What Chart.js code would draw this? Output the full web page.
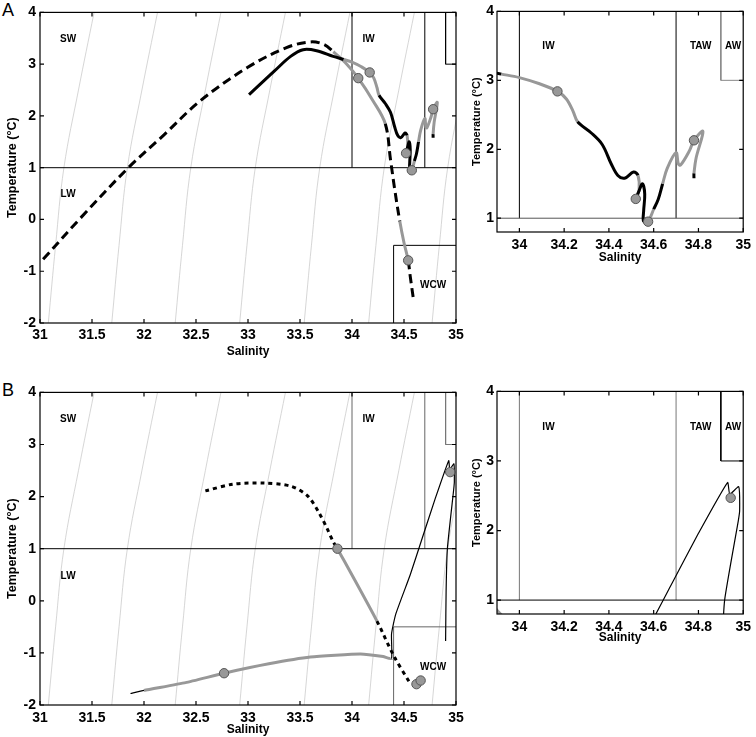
<!DOCTYPE html>
<html>
<head>
<meta charset="utf-8">
<script src="https://cdn.jsdelivr.net/npm/chart.js@4.4.1/dist/chart.umd.min.js"></script>
<style>
  body { margin: 0; background: #fff; width: 756px; height: 737px; position: relative; overflow: hidden; font-family: "Liberation Sans", Arial, sans-serif; }
  .panel { position: absolute; }
  .letter { position: absolute; font-size: 18px; color: #000; }
</style>
</head>
<body>
<div class="letter" style="left:2px;top:0px;">A</div>
<div class="letter" style="left:2px;top:380px;">B</div>
<div class="panel" style="left:0px;top:0px;"><canvas id="mainA" width="470" height="362"></canvas></div>
<div class="panel" style="left:460px;top:0px;"><canvas id="insetA" width="296" height="270"></canvas></div>
<div class="panel" style="left:0px;top:380px;"><canvas id="mainB" width="470" height="360"></canvas></div>
<div class="panel" style="left:460px;top:380px;"><canvas id="insetB" width="296" height="270"></canvas></div>
<script>
// tick labels
const mainSalTicks = [31, 31.5, 32, 32.5, 33, 33.5, 34, 34.5, 35];
const mainTempTicks = [-2, -1, 0, 1, 2, 3, 4];
const insetSalTicks = [34, 34.2, 34.4, 34.6, 34.8, 35];
const insetTempTicks = [1, 2, 3, 4];

// density contours at these temperatures
const isoTemp = [-2, -0.5, 1, 2.5, 4];
const isoSal = [
  [31.08, 31.15, 31.23, 31.37, 31.52],
  [31.69, 31.76, 31.84, 31.98, 32.13],
  [32.30, 32.37, 32.45, 32.59, 32.74],
  [32.92, 32.99, 33.07, 33.21, 33.36],
  [33.54, 33.61, 33.69, 33.83, 33.98],
  [34.16, 34.23, 34.31, 34.45, 34.60],
  [34.77, 34.84, 34.92, 35.06, 35.21]
];

// water mass boundaries
const boxSal = [[31, 35], [34, 34], [34.7, 34.7], [34.9, 34.9, 35], [34.4, 34.4, 35]];
const boxTemp = [[1, 1], [1, 4], [1, 4], [4, 3, 3], [-2, -0.5, -0.5]];

// water mass names
const mainNames = ['SW', 'LW', 'IW', 'WCW'];
const mainNameSal = [31.27, 31.27, 34.16, 34.78];
const mainNameTemp = [3.49, 0.48, 3.49, -1.27];
const insetNames = ['IW', 'TAW', 'AW'];
const insetNameSal = [34.13, 34.81, 34.955];
const insetNameTemp = [3.49, 3.49, 3.49];

// profile A1 (d = dashed black, g = grey)
const a1Sal  = [31.03, 31.40, 31.85, 32.19, 32.54, 32.99, 33.37, 33.60, 33.73, 33.82, 33.95, 34.06, 34.20, 34.32, 34.37, 34.41, 34.46, 34.50, 34.54, 34.56, 34.59];
const a1Temp = [-0.77, 0.05, 1.00, 1.63, 2.29, 2.93, 3.32, 3.43, 3.38, 3.24, 3.00, 2.73, 2.30, 1.85, 1.16, 0.59, -0.04, -0.45, -0.79, -1.10, -1.53];
const a1Style = ['d', 'd', 'd', 'd', 'd', 'd', 'd', 'd', 'd', 'g', 'g', 'g', 'g', 'd', 'd', 'd', 'g', 'g', 'd', 'd', 'd'];
const a1MarkSal = [34.06, 34.54];
const a1MarkTemp = [2.73, -0.79];

// profile A2 (k = black, g = grey)
const a2Sal  = [33.01, 33.25, 33.41, 33.53, 33.66, 33.82, 33.92, 34.00, 34.09, 34.17, 34.21, 34.24, 34.26, 34.32, 34.37, 34.41, 34.44, 34.47, 34.51, 34.53, 34.535, 34.52, 34.535, 34.55, 34.56, 34.555, 34.555, 34.575, 34.60, 34.62, 34.64, 34.66, 34.70, 34.71, 34.72, 34.76, 34.78, 34.82, 34.79, 34.78, 34.78];
const a2Temp = [2.41, 2.86, 3.15, 3.28, 3.26, 3.15, 3.09, 3.04, 2.95, 2.84, 2.73, 2.55, 2.40, 2.24, 2.07, 1.79, 1.62, 1.58, 1.67, 1.62, 1.41, 1.28, 1.40, 1.50, 1.35, 1.10, 0.95, 0.95, 1.13, 1.27, 1.50, 1.72, 1.95, 1.79, 1.77, 1.98, 2.13, 2.26, 1.88, 1.65, 1.58];
const a2Style = ['k', 'k', 'k', 'k', 'k', 'k', 'g', 'g', 'g', 'g', 'g', 'g', 'k', 'k', 'k', 'k', 'k', 'k', 'k', 'g', 'g', 'k', 'k', 'k', 'k', 'k', 'g', 'g', 'k', 'k', 'g', 'g', 'g', 'g', 'g', 'g', 'g', 'g', 'g', 'k', 'k'];
const a2MarkSal = [34.17, 34.52, 34.575, 34.78];
const a2MarkTemp = [2.84, 1.28, 0.95, 2.13];

// profile B1 (: = dotted black, g = grey)
const b1Sal  = [32.59, 32.86, 33.15, 33.41, 33.57, 33.68, 33.76, 33.82, 33.86, 34.24, 34.40, 34.56];
const b1Temp = [2.11, 2.24, 2.26, 2.20, 2.02, 1.70, 1.39, 1.13, 1.00, -0.39, -1.05, -1.59];
const b1Style = [':', ':', ':', ':', ':', ':', ':', ':', 'g', ':', ':', ':'];
const b1MarkSal = [33.86, 34.62, 34.66];
const b1MarkTemp = [1.00, -1.60, -1.53];

// profile B2 (t = thin black, g = grey)
const b2Sal  = [31.87, 32.00, 32.40, 32.77, 33.20, 33.60, 34.08, 34.30, 34.38, 34.38, 34.42, 34.56, 34.675, 34.80, 34.93, 34.94, 34.98, 34.984, 34.978, 34.917, 34.905, 34.90];
const b2Temp = [-1.78, -1.72, -1.57, -1.39, -1.21, -1.08, -1.02, -1.07, -1.11, -0.64, -0.26, 0.50, 1.20, 1.96, 2.69, 2.52, 2.63, 2.28, 2.14, 1.00, 0.20, -0.77];
const b2Style = ['t', 'g', 'g', 'g', 'g', 'g', 'g', 'g', 't', 't', 't', 't', 't', 't', 't', 't', 't', 't', 't', 't', 't', 't'];
const b2MarkSal = [32.77, 34.944];
const b2MarkTemp = [-1.39, 2.47];

const GREY = '#989898';
const FONT = '"Liberation Sans", Arial, sans-serif';

function pts(sal, temp) {
  return sal.map((s, i) => ({ x: s, y: temp[i] }));
}

function profile(sal, temp, style, tension) {
  return {
    data: pts(sal, temp),
    showLine: true,
    pointRadius: 0,
    borderColor: '#000',
    borderWidth: 3,
    tension: tension,
    clip: 0,
    order: 1,
    segment: {
      borderColor: c => style[c.p0DataIndex] === 'g' ? GREY : '#000',
      borderWidth: c => style[c.p0DataIndex] === 't' ? 1.2 : 3,
      borderDash: c => {
        const s = style[c.p0DataIndex];
        if (s === 'd') return [9, 5];
        if (s === ':') return [4, 4];
        return [];
      }
    }
  };
}

function markers(sal, temp) {
  return {
    data: pts(sal, temp),
    showLine: false,
    pointRadius: 4.7,
    pointBackgroundColor: GREY,
    pointBorderColor: '#555',
    pointBorderWidth: 1,
    clip: 0,
    order: 0
  };
}

function contours() {
  return isoSal.map(row => ({
    data: pts(row, isoTemp),
    showLine: true,
    pointRadius: 0,
    borderColor: '#c4c4c4',
    borderWidth: 0.7,
    tension: 0.4,
    clip: 0,
    order: 3
  }));
}

function boxes(colors) {
  return boxSal.map((row, i) => ({
    data: pts(row, boxTemp[i]),
    showLine: true,
    pointRadius: 0,
    borderColor: colors[i],
    borderWidth: 1,
    tension: 0,
    clip: 0,
    order: 2
  }));
}

const frameTicks = {
  id: 'frameTicks',
  afterDatasetsDraw(chart, args, opts) {
    const { ctx, chartArea: a, scales } = chart;
    ctx.save();
    ctx.strokeStyle = '#000';
    ctx.lineWidth = 1.2;
    ctx.strokeRect(a.left, a.top, a.right - a.left, a.bottom - a.top);
    ctx.beginPath();
    scales.x.ticks.forEach(t => {
      const px = scales.x.getPixelForValue(t.value);
      ctx.moveTo(px, a.bottom); ctx.lineTo(px, a.bottom - 4);
      ctx.moveTo(px, a.top); ctx.lineTo(px, a.top + 4);
    });
    scales.y.ticks.forEach(t => {
      const py = scales.y.getPixelForValue(t.value);
      ctx.moveTo(a.left, py); ctx.lineTo(a.left + 4, py);
      ctx.moveTo(a.right, py); ctx.lineTo(a.right - 4, py);
    });
    ctx.stroke();
    ctx.fillStyle = '#000';
    ctx.font = 'bold 10px ' + FONT;
    ctx.textAlign = 'center';
    ctx.textBaseline = 'middle';
    (opts.names || []).forEach((n, i) => {
      ctx.fillText(n, scales.x.getPixelForValue(opts.sal[i]), scales.y.getPixelForValue(opts.temp[i]));
    });
    ctx.restore();
  }
};

function makePanel(id, datasets, p) {
  const ctx = document.getElementById(id).getContext('2d');
  new Chart(ctx, {
    type: 'scatter',
    data: { datasets: datasets },
    options: {
      responsive: false,
      animation: false,
      events: [],
      layout: { padding: { left: 0, right: p.padRight, top: p.padTop, bottom: 0 } },
      plugins: {
        legend: { display: false },
        tooltip: { enabled: false },
        frameTicks: { names: p.names, sal: p.nameSal, temp: p.nameTemp }
      },
      scales: {
        x: {
          type: 'linear',
          min: p.xMin, max: p.xMax,
          grid: { display: false, drawTicks: false },
          border: { display: false },
          afterBuildTicks: s => { s.ticks = p.xTicks.map(v => ({ value: v })); },
          afterFit: s => { s.height = p.xHeight; },
          ticks: { color: '#000', padding: p.xTickPad, font: { family: FONT, size: 14, weight: 'bold' }, callback: v => String(v), maxRotation: 0, autoSkip: false },
          title: { display: true, text: 'Salinity', color: '#000', padding: { top: 0, bottom: p.xTitlePad }, font: { family: FONT, size: 12, weight: 'bold' } }
        },
        y: {
          type: 'linear',
          min: p.yMin, max: p.yMax,
          grid: { display: false, drawTicks: false },
          border: { display: false },
          afterBuildTicks: s => { s.ticks = p.yTicks.map(v => ({ value: v })); },
          afterFit: s => { s.width = p.yWidth; },
          ticks: { color: '#000', padding: p.yTickPad, font: { family: FONT, size: 14, weight: 'bold' }, callback: v => String(v), autoSkip: false },
          title: { display: true, text: 'Temperature (°C)', color: '#000', padding: { top: p.yTitlePad, bottom: 0 }, font: { family: FONT, size: p.yTitleSize, weight: 'bold' } }
        }
      }
    },
    plugins: [frameTicks]
  });
}

const mainOpts = {
  xMin: 31, xMax: 35, yMin: -2, yMax: 4, xTicks: mainSalTicks, yTicks: mainTempTicks,
  yWidth: 40, yTickPad: 4, yTitlePad: 5, yTitleSize: 12.5,
  names: mainNames, nameSal: mainNameSal, nameTemp: mainNameTemp
};
const insetOpts = {
  xMin: 33.9, xMax: 35, yMin: 0.8, yMax: 4, xTicks: insetSalTicks, yTicks: insetTempTicks,
  yWidth: 37, yTickPad: 3, yTitlePad: 10, yTitleSize: 11,
  names: insetNames, nameSal: insetNameSal, nameTemp: insetNameTemp
};

makePanel('mainA', [
  markers(a1MarkSal, a1MarkTemp),
  markers(a2MarkSal, a2MarkTemp),
  profile(a2Sal, a2Temp, a2Style, 0.35),
  profile(a1Sal, a1Temp, a1Style, 0.35),
  ...boxes(['#000', '#000', '#000', '#000', '#000']),
  ...contours()
], Object.assign({}, mainOpts, { padRight: 14, padTop: 7, xHeight: 39, xTickPad: 4, xTitlePad: 3 }));

makePanel('insetA', [
  markers(a2MarkSal, a2MarkTemp),
  profile(a2Sal, a2Temp, a2Style, 0.35),
  ...boxes(['#555', '#000', '#000', '#888', '#000'])
], Object.assign({}, insetOpts, { padRight: 9, padTop: 7, xHeight: 38, xTickPad: 5, xTitlePad: 5 }));

makePanel('mainB', [
  markers(b2MarkSal, b2MarkTemp),
  markers(b1MarkSal, b1MarkTemp),
  profile(b1Sal, b1Temp, b1Style, 0.3),
  profile(b2Sal, b2Temp, b2Style, 0.15),
  ...boxes(['#000', '#666', '#666', '#777', '#666']),
  ...contours()
], Object.assign({}, mainOpts, { padRight: 14, padTop: 9, xHeight: 35, xTickPad: 5, xTitlePad: 3 }));

makePanel('insetB', [
  markers(b2MarkSal, b2MarkTemp),
  markers(b1MarkSal, b1MarkTemp),
  profile(b2Sal, b2Temp, b2Style, 0.15),
  profile(b1Sal, b1Temp, b1Style, 0.3),
  ...boxes(['#000', '#777', '#777', '#000', '#000'])
], Object.assign({}, insetOpts, { padRight: 9, padTop: 9, xHeight: 36, xTickPad: 5, xTitlePad: 5 }));
</script>
</body>
</html>
